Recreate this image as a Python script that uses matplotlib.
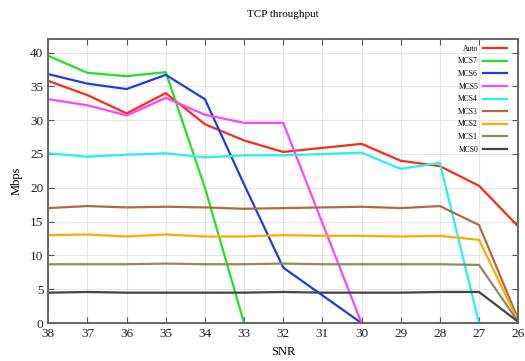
import matplotlib.pyplot as plt

plt.rcParams['font.family'] = ['Liberation Serif', 'DejaVu Serif']

snr = [38, 37, 36, 35, 34, 33, 32, 31, 30, 29, 28, 27, 26]

auto = [35.8, 33.7, 31.0, 34.0, 29.4, 27.0, 25.3, 25.9, 26.5, 24.0, 23.2, 20.3, 14.3]
mcs7 = [39.5, 37.0, 36.5, 37.1, 20.0, 0, 0, 0, 0, 0, 0, 0, 0]
mcs6 = [36.8, 35.4, 34.6, 36.7, 33.1, 20.5, 8.2, 4.1, 0, 0, 0, 0, 0]
mcs5 = [33.1, 32.2, 30.7, 33.3, 30.8, 29.6, 29.6, 14.8, 0, 0, 0, 0, 0]
mcs4 = [25.1, 24.6, 24.9, 25.1, 24.5, 24.8, 24.8, 25.0, 25.2, 22.8, 23.7, 0, 0]
mcs3 = [17.0, 17.3, 17.1, 17.2, 17.1, 16.9, 17.0, 17.1, 17.2, 17.0, 17.3, 14.5, 0.6]
mcs2 = [13.0, 13.1, 12.8, 13.1, 12.8, 12.8, 13.0, 12.9, 12.9, 12.8, 12.9, 12.3, 0.3]
mcs1 = [8.7, 8.7, 8.7, 8.8, 8.7, 8.7, 8.8, 8.7, 8.7, 8.7, 8.7, 8.6, 0.2]
mcs0 = [4.5, 4.6, 4.5, 4.5, 4.5, 4.5, 4.6, 4.5, 4.5, 4.5, 4.6, 4.6, 0.2]

names = ['Auto', 'MCS7', 'MCS6', 'MCS5', 'MCS4', 'MCS3', 'MCS2', 'MCS1', 'MCS0']
series = [auto, mcs7, mcs6, mcs5, mcs4, mcs3, mcs2, mcs1, mcs0]
colors = ['#ff2a12', '#22e022', '#1a3ee6', '#ff44ff', '#22f2f2',
          '#b06a42', '#ffaa00', '#8e8c5c', '#444444']

fig = plt.figure(figsize=(5.25, 3.61), dpi=100)
ax = fig.add_axes([0.092, 0.105, 0.895, 0.787])

for name, y, c in zip(names, series, colors):
    ax.plot(snr, y, color=c, linewidth=1.6, label=name)

ax.set_xlim(38, 26)
ax.set_ylim(0, 42)
ax.set_xticks(snr)
ax.set_yticks([0, 5, 10, 15, 20, 25, 30, 35, 40])
ax.grid(True, color='#e6e6e6', linewidth=0.8)
ax.set_axisbelow(True)
ax.tick_params(direction='in', top=True, right=True, labelsize=9.5, colors='#555555',
               labelcolor='#222222', length=4)
for s in ax.spines.values():
    s.set_color('#666666')
    s.set_linewidth(1.4)

ax.set_title('TCP throughput', fontsize=8, pad=16)
ax.set_xlabel('SNR', fontsize=9, labelpad=4)
ax.set_ylabel('Mbps', fontsize=9, labelpad=5)

ax.legend(loc='upper right', bbox_to_anchor=(0.983, 0.99), borderaxespad=0,
          frameon=False, markerfirst=False, fontsize=5.5,
          handlelength=3.2, labelspacing=0.6, handletextpad=0.6)

fig.savefig('out.png', dpi=100)
